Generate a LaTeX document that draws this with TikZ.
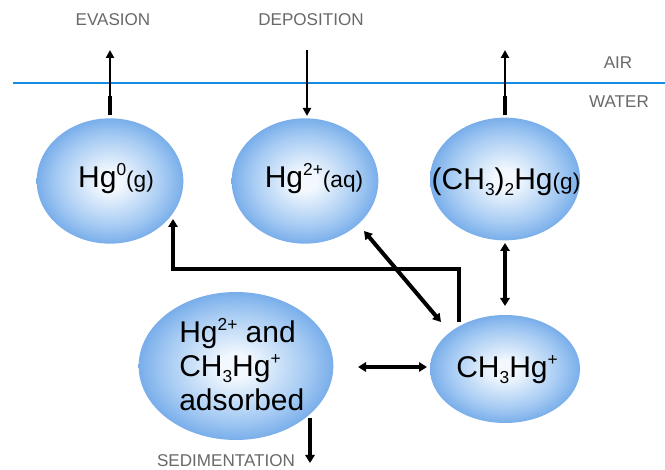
\documentclass[tikz,border=0pt]{standalone}
\usepackage{fontspec}
\setmainfont{Liberation Sans}
\usetikzlibrary{arrows.meta,shapes.geometric}
\definecolor{blobout}{RGB}{70,141,224}
\definecolor{blobmid}{RGB}{166,203,243}
\definecolor{blobin}{RGB}{242,248,254}
\definecolor{airblue}{RGB}{20,140,225}
\definecolor{lblgray}{RGB}{105,105,105}
\pgfdeclareradialshading{blobshade}{\pgfpoint{0bp}{0bp}}{color(0bp)=(blobin); color(4bp)=(blobin); color(18bp)=(blobmid); color(33bp)=(blobout); color(100bp)=(blobout)}
\newcommand{\supx}[1]{\raisebox{9pt}{\fontsize{13}{13}\selectfont #1}}
\newcommand{\subx}[1]{\raisebox{-4.5pt}{\fontsize{13}{13}\selectfont #1}}
\newcommand{\smx}[1]{{\fontsize{17}{17}\selectfont #1}}
\begin{document}
\begin{tikzpicture}[x=0.75pt,y=-0.75pt,
  blob/.style={ellipse, shading=blobshade, inner sep=0pt},
  big/.style={font=\fontsize{22.5}{26}\selectfont, inner sep=0pt},
  lbl/.style={text=lblgray, font=\fontsize{12.8}{14}\selectfont, inner sep=0pt},
  flow/.style={line width=3pt, -{Triangle[length=6pt,width=7pt]}},
  flowtwo/.style={line width=3pt, {Triangle[length=6pt,width=7pt]}-{Triangle[length=6pt,width=7pt]}},
  thinflow/.style={line width=1.5pt, -{Triangle[length=6pt,width=6pt]}},
  stub/.style={line width=3pt}]
\useasboundingbox (0,0) rectangle (665,470);
\fill[white] (0,0) rectangle (665,470);

% air / water boundary
\coordinate (airL) at (13,83);
\coordinate (airR) at (665,83);
\draw[airblue, line width=1.1pt] (airL) -- (airR);
\node[lbl] (air) at (618,63) {AIR};
\node[lbl] (water) at (619,102) {WATER};

% ellipses
\node[blob, minimum width=110pt, minimum height=94pt] (hgz) at (110,181) {};
\node[blob, minimum width=110pt, minimum height=94pt] (hgt) at (305,181) {};
\node[blob, minimum width=112.5pt, minimum height=92pt] (dmh) at (505,179) {};
\node[blob, minimum width=146pt, minimum height=111pt] (ads) at (236,366) {};
\node[blob, minimum width=112.5pt, minimum height=81pt] (meh) at (505,369) {};

% texts
\node[big, anchor=base] (thz) at (116,188) {Hg\supx{0}\smx{(g)}};
\node[big, anchor=base] (tht) at (314,188) {Hg\supx{2+}\smx{(aq)}};
\node[big, anchor=base] (tdm) at (506,190) {(CH\subx{3})\subx{2}Hg\smx{(g)}};
\node[big, anchor=base] (tme) at (507,378) {CH\subx{3}Hg\supx{+}};
\node[big, anchor=base west] (tad1) at (179,343) {Hg\supx{2+} and};
\node[big, anchor=base west] (tad2) at (179,377) {CH\subx{3}Hg\supx{+}};
\node[big, anchor=base west] (tad3) at (179,411) {adsorbed};

% labels
\node[lbl] (evas) at (113,20) {EVASION};
\node[lbl] (depo) at (311,20) {DEPOSITION};
\node[lbl] (sedi) at (226,461) {SEDIMENTATION};

% exchange with air
\coordinate (evtop) at (110,50);
\coordinate (evmid) at (110,96);
\draw[stub, shorten <=2pt] (hgz.north) -- (evmid);
\draw[thinflow, shorten <=2pt] (hgz.north) -- (evtop);

\coordinate (dptop) at (307,50);
\coordinate (dpbot) at (307,116);
\draw[thinflow] (dptop) -- (dpbot);

\coordinate (dmtop) at (505,50);
\coordinate (dmmid) at (505,96);
\draw[stub, shorten <=2pt] (dmh.north) -- (dmmid);
\draw[thinflow, shorten <=2pt] (dmh.north) -- (dmtop);

% internal transformations
\coordinate (mtop) at (459,322);
\coordinate (bendR) at (459,269);
\coordinate (bendL) at (173,269);
\coordinate (hzend) at (173,219);
\draw[flow, line join=miter] (mtop) -- (bendR) -- (bendL) -- (hzend);

\coordinate (dgA) at (364,231);
\coordinate (dgB) at (441,322);
\draw[flowtwo] (dgA) -- (dgB);

\coordinate (vtA) at (505,243);
\coordinate (vtB) at (505,306);
\draw[flowtwo] (vtA) -- (vtB);

\coordinate (hzA) at (358,367);
\coordinate (hzB) at (427,367);
\draw[flowtwo] (hzA) -- (hzB);

\coordinate (sdA) at (310,418);
\coordinate (sdB) at (310,463);
\draw[flow] (sdA) -- (sdB);
\end{tikzpicture}
\end{document}
